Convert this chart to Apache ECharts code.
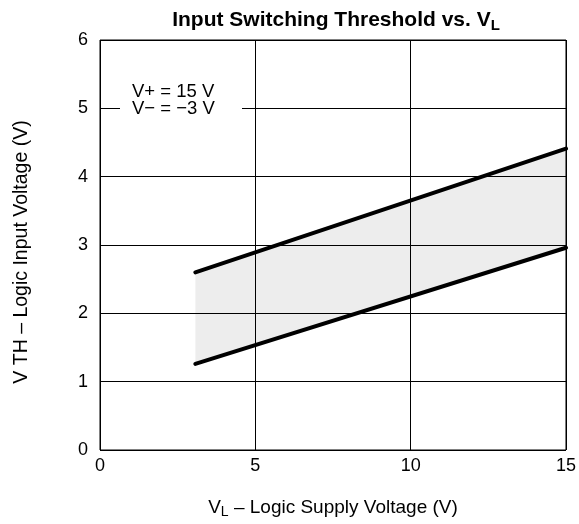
<!DOCTYPE html>
<html>
<head>
<meta charset="utf-8">
<script src="https://cdn.jsdelivr.net/npm/echarts@6/dist/echarts.min.js"></script>
<style>
  html, body { margin: 0; padding: 0; background: #fff; }
  #chart { width: 579px; height: 524px; }
</style>
</head>
<body>
<div id="chart"></div>
<script>
    // V_L supply voltage at the two ends of the threshold band
    var supplyV = [3.07, 15];
    var thresholdLow = [1.26, 2.96];
    var thresholdHigh = [2.6, 4.41];
    var xTicks = [0, 5, 10, 15];
    var yTicks = [0, 1, 2, 3, 4, 5, 6];
    var noteLines = ['V+ = 15 V', 'V\u2212 = \u22123 V'];

    var font = 'Liberation Sans, Arial, sans-serif';
    var chart = echarts.init(document.getElementById('chart'));

    function pairs(ys) {
        return supplyV.map(function(x, i) { return [x, ys[i]]; });
    }

    // shaded band between the two threshold lines
    function renderBand(params, api) {
        if (params.dataIndex !== 0) return null;
        var pts = [];
        supplyV.forEach(function(x, i) { pts.push(api.coord([x, thresholdHigh[i]])); });
        for (var i = supplyV.length - 1; i >= 0; i--) {
            pts.push(api.coord([supplyV[i], thresholdLow[i]]));
        }
        return {
            type: 'polygon',
            shape: { points: pts },
            style: { fill: 'rgba(0,0,0,0.07)' }
        };
    }

    var option = {
        animation: false,
        backgroundColor: '#fff',
        title: {
            text: 'Input Switching Threshold vs. V{sub|L}',
            left: 331,
            textAlign: 'center',
            top: 3,
            textStyle: {
                fontFamily: font,
                fontSize: 21,
                fontWeight: 'bold',
                color: '#000',
                rich: {
                    sub: { fontFamily: font, fontSize: 15, fontWeight: 'bold', verticalAlign: 'bottom', padding: [10, 0, 0, 0] }
                }
            }
        },
        grid: {
            left: 100, right: 13, top: 40, bottom: 73,
            show: true, borderColor: '#000', borderWidth: 1
        },
        xAxis: {
            type: 'value', min: 0, max: 15, interval: 5,
            axisLine: { show: false },
            axisTick: { show: false },
            splitLine: { lineStyle: { color: '#000', width: 1 } },
            axisLabel: { fontFamily: font, fontSize: 18, color: '#000', margin: 7 },
            name: 'V{sub|L} \u2013 Logic Supply Voltage (V)',
            nameLocation: 'middle',
            nameGap: 46,
            nameTextStyle: {
                fontFamily: font, fontSize: 19, color: '#000',
                rich: { sub: { fontFamily: font, fontSize: 14, verticalAlign: 'bottom', padding: [9, 0, 0, 0] } }
            }
        },
        yAxis: {
            type: 'value', min: 0, max: 6, interval: 1,
            axisLine: { show: false },
            axisTick: { show: false },
            splitLine: { lineStyle: { color: '#000', width: 1 } },
            axisLabel: { fontFamily: font, fontSize: 18, color: '#000', margin: 12 },
            name: 'V TH \u2013 Logic Input Voltage (V)',
            nameLocation: 'middle',
            nameGap: 68,
            nameTextStyle: { fontFamily: font, fontSize: 19.5, color: '#000', padding: [0, 14, 0, 0] }
        },
        graphic: [{
            type: 'group',
            left: 120, top: 80,
            z: 100,
            children: [{
                type: 'rect',
                z: 100,
                shape: { x: 0, y: 0, width: 122, height: 44 },
                style: { fill: '#fff' }
            }, {
                type: 'text',
                z: 101,
                x: 12, y: 3,
                style: {
                    text: noteLines.join('\n'),
                    font: '18.5px ' + font,
                    lineHeight: 17,
                    fill: '#000'
                }
            }]
        }],
        series: [{
            type: 'custom',
            data: pairs(thresholdLow),
            renderItem: renderBand,
            silent: true,
            z: 1
        }, {
            type: 'line', data: pairs(thresholdHigh),
            symbol: 'none', lineStyle: { color: '#000', width: 4, cap: 'round' }, z: 3
        }, {
            type: 'line', data: pairs(thresholdLow),
            symbol: 'none', lineStyle: { color: '#000', width: 4, cap: 'round' }, z: 3
        }]
    };
    chart.setOption(option);
</script>
</body>
</html>
